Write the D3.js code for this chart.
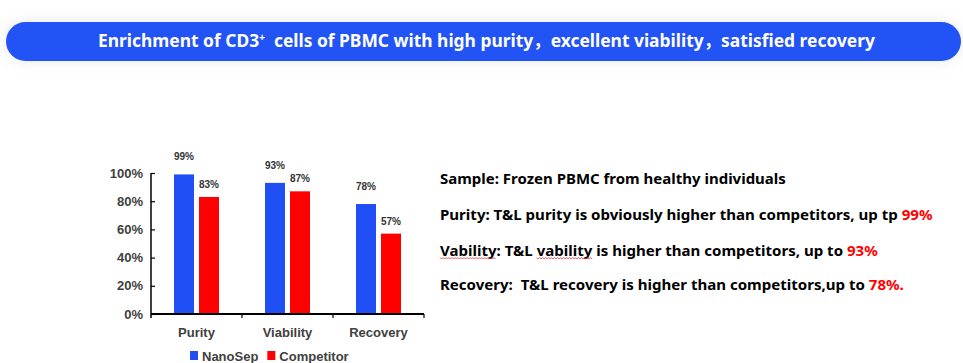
<!DOCTYPE html>
<html>
<head>
<meta charset="utf-8">
<script src="https://cdn.jsdelivr.net/npm/d3@7"></script>
<style>
  html, body { margin: 0; padding: 0; background: #ffffff; }
  svg { display: block; }
</style>
</head>
<body>
<svg id="chart" width="963" height="363"></svg>
<script>
// chart data
var categories = ["Purity", "Viability", "Recovery"];
var series = ["NanoSep", "Competitor"];
var nanosep = [99, 93, 78];
var competitor = [83, 87, 57];
var yTicks = [0, 20, 40, 60, 80, 100];
var colors = ["#2050F5", "#FF0000"];

var titleText = "Enrichment of CD3";
var titleRest = "  cells of PBMC with high purity\uFF0Cexcellent viability\uFF0Csatisfied recovery";

// right hand notes: [black part, red part]
var notes = [
  ["Sample: Frozen PBMC from healthy individuals", ""],
  ["Purity: T&L purity is obviously higher than competitors, up tp", "99%"],
  ["Vability: T&L vability is higher than competitors, up to", "93%"],
  ["Recovery:  T&L recovery is higher than competitors,up to", "78%."]
];
var noteWidths = [346, 493, 438, 464];

var svg = d3.select("#chart");

// ---- banner
var defs = svg.append("defs");
var f = defs.append("filter").attr("id", "glow")
  .attr("x", "-5%").attr("y", "-60%").attr("width", "110%").attr("height", "220%");
f.append("feGaussianBlur").attr("in", "SourceAlpha").attr("stdDeviation", 7).attr("result", "b");
f.append("feFlood").attr("flood-color", "#8a93b8").attr("flood-opacity", 0.22);
f.append("feComposite").attr("in2", "b").attr("operator", "in").attr("result", "s");
var fm = f.append("feMerge");
fm.append("feMergeNode").attr("in", "s");
fm.append("feMergeNode").attr("in", "SourceGraphic");

svg.append("rect")
  .attr("x", 6).attr("y", 22).attr("width", 955).attr("height", 39)
  .attr("rx", 19.5).attr("ry", 19.5)
  .attr("fill", "#2453F4")
  .attr("filter", "url(#glow)");

var title = svg.append("text")
  .attr("x", 98).attr("y", 47)
  .attr("fill", "#ffffff")
  .attr("font-family", "'Noto Sans', 'Noto Sans CJK SC', sans-serif")
  .attr("font-weight", "bold")
  .attr("font-size", 17.5)
  .attr("textLength", 777)
  .attr("lengthAdjust", "spacingAndGlyphs")
  .style("white-space", "pre");
title.append("tspan").text(titleText);
title.append("tspan").attr("dy", -6).attr("font-size", 10).text("+");
title.append("tspan").attr("dy", 6).text(titleRest);

// ---- bar chart
var y = d3.scaleLinear().domain([0, 100]).range([314, 173]);
var x0 = d3.scaleBand().domain(categories).range([151, 424]);
var x1 = d3.scaleBand().domain(series).range([23, 68]).paddingInner(0.2);

var rows = categories.map(function (c, i) {
  return { cat: c, vals: [nanosep[i], competitor[i]] };
});

var g = svg.append("g");

var groups = g.selectAll(".cat")
  .data(rows)
  .enter().append("g")
  .attr("transform", function (d) { return "translate(" + x0(d.cat) + ",0)"; });

groups.selectAll("rect")
  .data(function (d) { return d.vals.map(function (v, j) { return { s: series[j], v: v, j: j }; }); })
  .enter().append("rect")
  .attr("x", function (d) { return x1(d.s); })
  .attr("y", function (d) { return y(d.v); })
  .attr("width", x1.bandwidth())
  .attr("height", function (d) { return y(0) - y(d.v); })
  .attr("fill", function (d) { return colors[d.j]; });

groups.selectAll(".lbl")
  .data(function (d) { return d.vals.map(function (v, j) { return { s: series[j], v: v, j: j }; }); })
  .enter().append("text")
  .attr("class", "lbl")
  .attr("x", function (d) { return x1(d.s) + x1.bandwidth() / 2; })
  .attr("y", function (d) { return y(d.v) - (d.j == 0 ? 14 : 9); })
  .attr("text-anchor", "middle")
  .attr("font-family", "'Liberation Sans', Arial, sans-serif")
  .attr("font-weight", "bold")
  .attr("font-size", 10)
  .attr("fill", "#333333")
  .text(function (d) { return d.v + "%"; });

// y axis, ticks point inward
var yAxis = d3.axisLeft(y).tickValues(yTicks).tickSize(-4).tickPadding(8)
  .tickFormat(function (d) { return d + "%"; });
var ya = g.append("g").attr("transform", "translate(151,0)").call(yAxis);
ya.select(".domain").attr("stroke", "#000").attr("stroke-width", 1.5).attr("d", "M0," + y(100) + "V" + (y(0) + 4));
ya.selectAll(".tick line").attr("stroke", "#000").attr("stroke-width", 1.2);
ya.selectAll(".tick text")
  .attr("font-family", "'Liberation Sans', Arial, sans-serif")
  .attr("font-weight", "bold")
  .attr("font-size", 13)
  .attr("fill", "#404040");

// x axis
var xAxis = d3.axisBottom(x0).tickSize(0).tickPadding(14);
var xa = g.append("g").attr("transform", "translate(0," + y(0) + ")").call(xAxis);
xa.select(".domain").attr("stroke", "#000").attr("stroke-width", 1.8)
  .attr("d", "M" + x0.range()[0] + ",0H" + x0.range()[1]);
xa.selectAll(".tick text")
  .attr("font-family", "'Liberation Sans', Arial, sans-serif")
  .attr("font-weight", "bold")
  .attr("font-size", 13)
  .attr("fill", "#404040");
// boundary ticks between categories
var bounds = categories.map(function (c) { return x0(c); }).slice(1).concat([x0.range()[1]]);
xa.selectAll(".btick")
  .data(bounds)
  .enter().append("line")
  .attr("x1", function (d) { return d; }).attr("x2", function (d) { return d; })
  .attr("y1", 0).attr("y2", 4)
  .attr("stroke", "#000").attr("stroke-width", 1.2);

// legend
var legend = svg.append("g").attr("transform", "translate(190,351)");
var lx = 0;
series.forEach(function (s, i) {
  legend.append("rect").attr("x", lx).attr("y", 0).attr("width", 8).attr("height", 9)
    .attr("fill", colors[i]);
  var t = legend.append("text").attr("x", lx + 12).attr("y", 9.5)
    .attr("font-family", "'Liberation Sans', Arial, sans-serif")
    .attr("font-weight", "bold")
    .attr("font-size", 13)
    .attr("fill", "#404040")
    .text(s);
  lx = lx + 12 + t.node().getComputedTextLength() + 9;
});

// ---- notes on the right (font size per line so each line spans its width)
var noteFont = "'Noto Sans', 'Open Sans', sans-serif";
var baseSize = 15;
var baselines = [184, 220, 255.5, 290];
function measure(str, size) {
  var t = svg.append("text").attr("font-family", noteFont).attr("font-weight", "bold")
    .attr("font-size", size).style("white-space", "pre").text(str);
  var w = t.node().getComputedTextLength();
  t.remove();
  return w;
}
var sizes = [];
notes.forEach(function (n, i) {
  var natural = measure(n[0] + (n[1] ? " " + n[1] : ""), baseSize);
  var size = baseSize * noteWidths[i] / natural;
  sizes.push(size);
  var wb = measure(n[0] + " ", size);
  svg.append("text")
    .attr("x", 440).attr("y", baselines[i])
    .attr("font-family", noteFont).attr("font-weight", "bold")
    .attr("font-size", size).attr("fill", "#000")
    .style("white-space", "pre")
    .text(n[0]);
  if (n[1]) {
    svg.append("text")
      .attr("x", 440 + wb).attr("y", baselines[i])
      .attr("font-family", noteFont).attr("font-weight", "bold")
      .attr("font-size", size).attr("fill", "#FF0000")
      .text(n[1]);
  }
});

// spell check wavy underline on the vability line
var line3 = notes[2][0];
var words = [[0, "Vability"], [line3.indexOf("vability"), "vability"]];
words.forEach(function (w) {
  var x0w = 440 + measure(line3.slice(0, w[0]), sizes[2]);
  var x1w = x0w + measure(w[1], sizes[2]);
  var pts = [];
  var step = 1.5, up = true;
  for (var px = x0w; px <= x1w; px += step) {
    pts.push([px, baselines[2] + (up ? 2 : 3.5)]);
    up = !up;
  }
  svg.append("path")
    .attr("d", d3.line()(pts))
    .attr("fill", "none")
    .attr("stroke", "#e03030")
    .attr("stroke-width", 0.8);
});
</script>
</body>
</html>
